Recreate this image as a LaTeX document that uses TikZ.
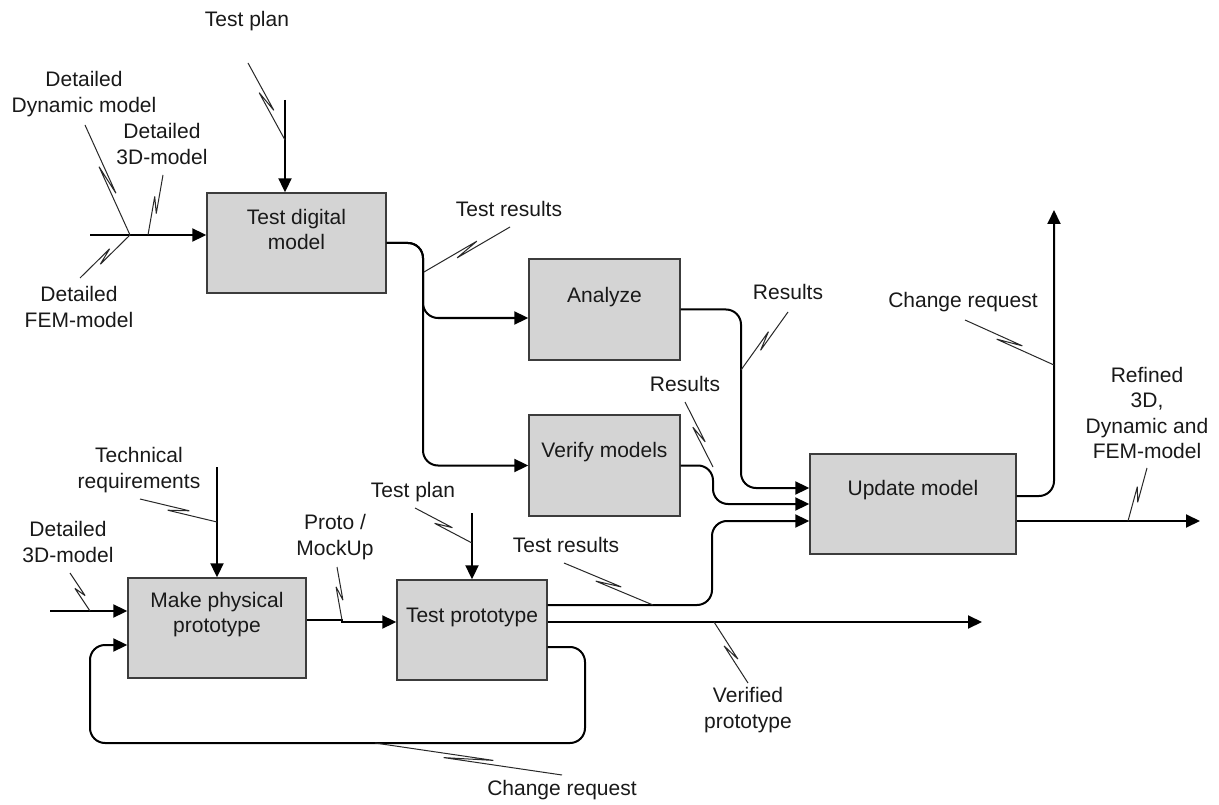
\documentclass[tikz,border=0pt]{standalone}
\usepackage{fontspec}
\setmainfont{Liberation Sans}
\usetikzlibrary{arrows.meta,calc}
\definecolor{boxfill}{RGB}{212,212,212}
\definecolor{boxline}{RGB}{60,60,60}
\definecolor{txt}{RGB}{25,25,25}
\definecolor{leadcol}{RGB}{40,40,40}
% leader with a lightning-bolt kink in the middle, from a label to a connector
\newcommand\leaderline[2]{%
  \draw[leader] (#1) -- ($(#1)!0.63!(#2)!2.8pt!90:(#2)$)
                     -- ($(#1)!0.37!(#2)!2.8pt!-90:(#2)$) -- (#2);}
\begin{document}
\begin{tikzpicture}[x=1pt,y=-1pt,
  every node/.style={font=\fontsize{21}{25.5}\selectfont, text=txt, align=center, inner sep=0pt},
  proc/.style={draw=boxline, line width=1.4pt, fill=boxfill},
  flow/.style={draw=black, line width=2pt, rounded corners=15pt,
    -{Triangle[length=14pt,width=13pt]}},
  leader/.style={draw=leadcol, line width=1pt, line join=miter, miter limit=4},
]
\useasboundingbox (0,0) rectangle (1219,805);
\fill[white] (0,0) rectangle (1219,805);

% activity boxes
\node[proc, minimum width=179pt, minimum height=100pt] (td) at (296.5,243) {};
\node[proc, minimum width=151pt, minimum height=101pt] (an) at (604.5,309.5) {};
\node[proc, minimum width=151pt, minimum height=101pt] (vm) at (604.5,465.5) {};
\node[proc, minimum width=206pt, minimum height=100pt] (um) at (913,504) {};
\node[proc, minimum width=178pt, minimum height=100pt] (mp) at (217,628) {};
\node[proc, minimum width=150pt, minimum height=100pt] (tp) at (472,630) {};

\node (tdt) at (296.5,229.5) {Test digital\\model};
\node (ant) at (604.5,297) {Analyze};
\node (vmt) at (604.5,452) {Verify models};
\node (umt) at (913,490) {Update model};
\node (mpt) at (217,614.5) {Make physical\\prototype};
\node (tpt) at (472,617) {Test prototype};

% labels
\node (l1) at (247,21) {Test plan};
\node (l2) at (84,94) {Detailed\\Dynamic model};
\node (l3) at (162,144) {Detailed\\3D-model};
\node (l4) at (79,307) {Detailed\\FEM-model};
\node (l5) at (509,209) {Test results};
\node (l6) at (788,292) {Results};
\node (l7) at (685,384) {Results};
\node (l8) at (963,302) {Change request};
\node (l9) at (1147,413) {Refined\\3D,\\Dynamic and\\FEM-model};
\node (l10) at (139,470) {Technical\\requirements};
\node (l11) at (68,542) {Detailed\\3D-model};
\node (l12) at (335,537) {Proto /\\MockUp};
\node (l13) at (413,492) {Test plan};
\node (l14) at (566,545) {Test results};
\node (l15) at (748,710) {Verified\\prototype};
\node (l16) at (562,790) {Change request};

% free ends of connectors
\coordinate (inTD) at (90,235);
\coordinate (planTD) at (285,100);
\coordinate (busTD) at (423,243);
\coordinate (techIn) at (217,467);
\coordinate (inMP) at (50,611);
\coordinate (planTP) at (472,513);
\coordinate (outVP) at (982,622);
\coordinate (outCR) at (1054,210);
\coordinate (outRM) at (1200,521);

% connectors
\draw[flow] (inTD) -- (inTD -| td.west);
\draw[flow] (planTD) -- (planTD |- td.north);
\draw[flow] (td.east) -- (busTD) -- (423,318) -- (an.west |- 0,318);
\draw[flow] (td.east) -- (busTD) -- (423,465.5) -- (vm.west);
\draw[flow] (an.east) -- (741,309.5) -- (741,488) -- (um.west |- 0,488);
\draw[flow] (vm.east) -- (713,465.5) -- (713,504) -- (um.west);
\draw[flow] (tp.east |- 0,605) -- (712,605) -- (712,521) -- (um.west |- 0,521);
\draw[flow] (tp.east |- 0,622) -- (outVP);
\draw[flow] (tp.east |- 0,647) -- (585,647) -- (585,743) -- (90,743) -- (90,645) -- (mp.west |- 0,645);
\draw[flow] (techIn) -- (mp.north);
\draw[flow] (inMP) -- (mp.west |- inMP);
\draw[flow, sharp corners] (mp.east |- 0,620) -- (342,620) -- (342,622) -- (tp.west |- 0,622);
\draw[flow] (planTP) -- (tp.north);
\draw[flow] (um.east |- 0,496) -- (1054,496) -- (outCR);
\draw[flow] (um.east |- 0,521) -- (outRM);

% label leaders
\coordinate (a1) at (248,63);   \coordinate (b1) at (285,140);
\coordinate (a2) at (85,125);   \coordinate (b2) at (130,235);
\coordinate (a3) at (163,175);  \coordinate (b3) at (148,235);
\coordinate (a4) at (80,278);   \coordinate (b4) at (130,235);
\coordinate (a5) at (510,227);  \coordinate (b5) at (424,272);
\coordinate (a6) at (788,312);  \coordinate (b6) at (741,370);
\coordinate (a7) at (685,402);  \coordinate (b7) at (713,467);
\coordinate (a8) at (965,320);  \coordinate (b8) at (1054,365);
\coordinate (a9) at (1147,468); \coordinate (b9) at (1128,521);
\coordinate (a10) at (140,499); \coordinate (b10) at (217,522);
\coordinate (a11) at (70,573);  \coordinate (b11) at (90,611);
\coordinate (a12) at (337,567); \coordinate (b12) at (342,620);
\coordinate (a13) at (415,508); \coordinate (b13) at (472,543);
\coordinate (a14) at (564,563); \coordinate (b14) at (653,605);
\coordinate (a15) at (748,683); \coordinate (b15) at (714,622);
\coordinate (a16) at (562,775); \coordinate (b16) at (375,743);
\foreach \i in {1,...,16} {\leaderline{a\i}{b\i}}
\end{tikzpicture}
\end{document}
